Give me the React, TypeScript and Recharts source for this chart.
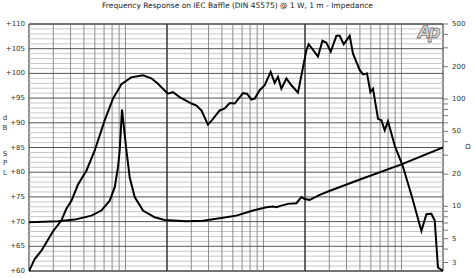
import { LineChart, Line, XAxis, YAxis, ReferenceLine, ReferenceArea } from 'recharts'

// frequency response (Hz / dB SPL)
const splFreq = [
  20, 22, 24.6, 29.8, 34.3, 37.3, 40.6, 45.3, 52.1, 59.9, 70.7, 81.2, 93.5, 110, 134, 154, 172,
  203, 221, 247, 301, 327, 355, 396, 431, 482, 524, 569, 619, 711, 760, 818, 864, 939, 1021,
  1128, 1206, 1274, 1349, 1467, 1594, 1779, 2047, 2128, 2485, 2674, 2858, 3071, 3378, 3569,
  3815, 4216, 4455, 4983, 5266, 5628, 5956, 6222, 6763, 7156, 7561, 7989, 8934, 10210, 11864,
  13950, 15160, 16480, 17420, 18390, 20000
]
const splDb = [
  60, 62.4, 64.1, 68, 70.2, 72.6, 74.2, 77.5, 80.3, 84.4, 90.5, 94.9, 97.8, 99.2, 99.6, 99, 97.9,
  95.9, 96.2, 95.2, 93.9, 93.5, 92.5, 89.6, 90.8, 92.5, 92.9, 94, 93.9, 96, 95.9, 94.7, 94.9, 96.6,
  97.6, 100.3, 98.1, 99.3, 96.9, 99, 97.6, 96.1, 104.7, 105.9, 103.4, 106.6, 106.2, 104.4, 107.6,
  107.6, 105.9, 107.6, 104, 100.7, 99.8, 100, 96.2, 96.9, 90.8, 90.5, 88.5, 90.3, 85.4, 81.3, 75.2,
  68.1, 71.5, 71.6, 70.2, 60.7, 60
]

// impedance (Hz / ohm)
const impFreq = [
  20, 32.4, 42.9, 56.7, 66.9, 76.9, 83.6, 88.3, 90.8, 94.4, 101.6, 107.3, 116.7, 134, 163, 192,
  276, 365, 482, 637, 840, 1050, 1173, 1241, 1349, 1506, 1732, 1884, 1990, 2164, 2556, 3000,
  5000, 10000, 20000
]
const impOhm = [
  7.1, 7.26, 7.53, 8.2, 9.14, 11.3, 15.1, 23.2, 33.2, 79.7, 33.2, 18.7, 12.2, 9.14, 7.91, 7.47,
  7.26, 7.36, 7.74, 8.2, 9.14, 9.8, 9.96, 9.8, 10.16, 10.55, 10.7, 12.2, 11.7, 11.5, 12.8, 13.9,
  17.8, 24.6, 35.4
]

const freqMinor = [
  30, 40, 50, 60, 70, 80, 90, 100, 300, 400, 500, 600, 700, 800, 900, 1000,
  3000, 4000, 5000, 6000, 7000, 8000, 9000, 10000
]
const freqMajor = [200, 2000]
const splTicks = [60, 65, 70, 75, 80, 85, 90, 95, 100, 105, 110]
const ohmTicks = [3, 4, 5, 6, 7, 8, 9, 10, 20, 30, 40, 50, 60, 70, 80, 90, 100, 200, 300, 400, 500]
const ohmLabels = [3, 5, 10, 20, 50, 100, 200, 500]
const splSide = ['d', 'B', 'S', 'P', 'L']
const splSideY = [118, 128, 154, 163, 173]

const title = 'Frequency Response on IEC Baffle (DIN 45575) @ 1 W, 1 m - Impedance'
const font = '"DejaVu Sans", Verdana, sans-serif'

const splData = splFreq.map((f, i) => ({ f, db: splDb[i] }))
const impData = impFreq.map((f, i) => ({ f, ohm: impOhm[i] }))

const dbMinor: number[] = []
for (let v = 61; v < 110; v++) if (v % 5 !== 0) dbMinor.push(v)

export default function App() {
  return (
    <div style={{ position: 'absolute', left: 0, top: 0, width: 475, height: 278, background: '#fff', fontFamily: font }}>
      <LineChart width={475} height={278} margin={{ top: 24, right: 0, bottom: 7, left: 0 }}>
        <XAxis dataKey="f" type="number" scale="log" domain={[20, 20000]} hide allowDataOverflow />
        <YAxis
          yAxisId="spl"
          type="number"
          domain={[60, 110]}
          ticks={splTicks}
          width={29}
          axisLine={false}
          tickLine={false}
          tickSize={0}
          tickMargin={4}
          interval={0}
          tick={({ x, y, payload }: any) => (
            <text x={x} y={y} textAnchor="end" dominantBaseline="central" fontSize={7} fill="#333" fontFamily={font}>
              +{payload.value}
            </text>
          )}
        />
        <YAxis
          yAxisId="ohm"
          orientation="right"
          type="number"
          scale="log"
          domain={[2.5, 500]}
          allowDataOverflow
          ticks={ohmTicks}
          width={32}
          axisLine={false}
          tickLine={{ stroke: '#777' }}
          tickSize={5}
          tickMargin={4}
          interval={0}
          tick={({ x, y, payload }: any) =>
            ohmLabels.includes(payload.value) ? (
              <text x={x} y={y} textAnchor="start" dominantBaseline="central" fontSize={7} fill="#333" fontFamily={font}>
                {payload.value}
              </text>
            ) : (
              <g />
            )
          }
        />
        {dbMinor.map((v) => (
          <ReferenceLine key={`hm${v}`} y={v} yAxisId="spl" stroke="#c6c6c6" strokeWidth={1} />
        ))}
        {freqMinor.map((f) => (
          <ReferenceLine key={`vm${f}`} x={f} yAxisId="spl" stroke="#8c8c8c" strokeWidth={1} />
        ))}
        {splTicks.map((v) => (
          <ReferenceLine key={`hM${v}`} y={v} yAxisId="spl" stroke="#555" strokeWidth={1} />
        ))}
        {freqMajor.map((f) => (
          <ReferenceLine key={`vM${f}`} x={f} yAxisId="spl" stroke="#333" strokeWidth={1.5} />
        ))}
        <Line
          data={impData}
          dataKey="ohm"
          yAxisId="ohm"
          type="linear"
          stroke="#000"
          strokeWidth={2}
          dot={false}
          isAnimationActive={false}
        />
        <Line
          data={splData}
          dataKey="db"
          yAxisId="spl"
          type="linear"
          stroke="#000"
          strokeWidth={2}
          dot={false}
          isAnimationActive={false}
        />
        <ReferenceArea x1={20} x2={20000} y1={60} y2={110} yAxisId="spl" fill="none" fillOpacity={0} stroke="#222" strokeWidth={1} />
      </LineChart>
      <div style={{ position: 'absolute', left: 0, top: 1, width: 475, textAlign: 'center', fontSize: 7.5, color: '#222' }}>
        {title}
      </div>
      {splSide.map((c, i) => (
        <div
          key={c}
          style={{ position: 'absolute', left: 2, top: splSideY[i] - 5, width: 6, textAlign: 'center', fontSize: 7, lineHeight: '10px', color: '#333' }}
        >
          {c}
        </div>
      ))}
      <div style={{ position: 'absolute', left: 463, top: 142, width: 10, textAlign: 'center', fontSize: 7, lineHeight: '10px', color: '#333' }}>
        Ω
      </div>
      <div
        style={{
          position: 'absolute',
          left: 418,
          top: 22,
          fontSize: 17,
          fontWeight: 'bold',
          fontStyle: 'italic',
          letterSpacing: -3,
          color: '#d8d8d8',
          WebkitTextStroke: '0.8px #777',
          lineHeight: '20px'
        }}
      >
        Ap
      </div>
    </div>
  )
}
